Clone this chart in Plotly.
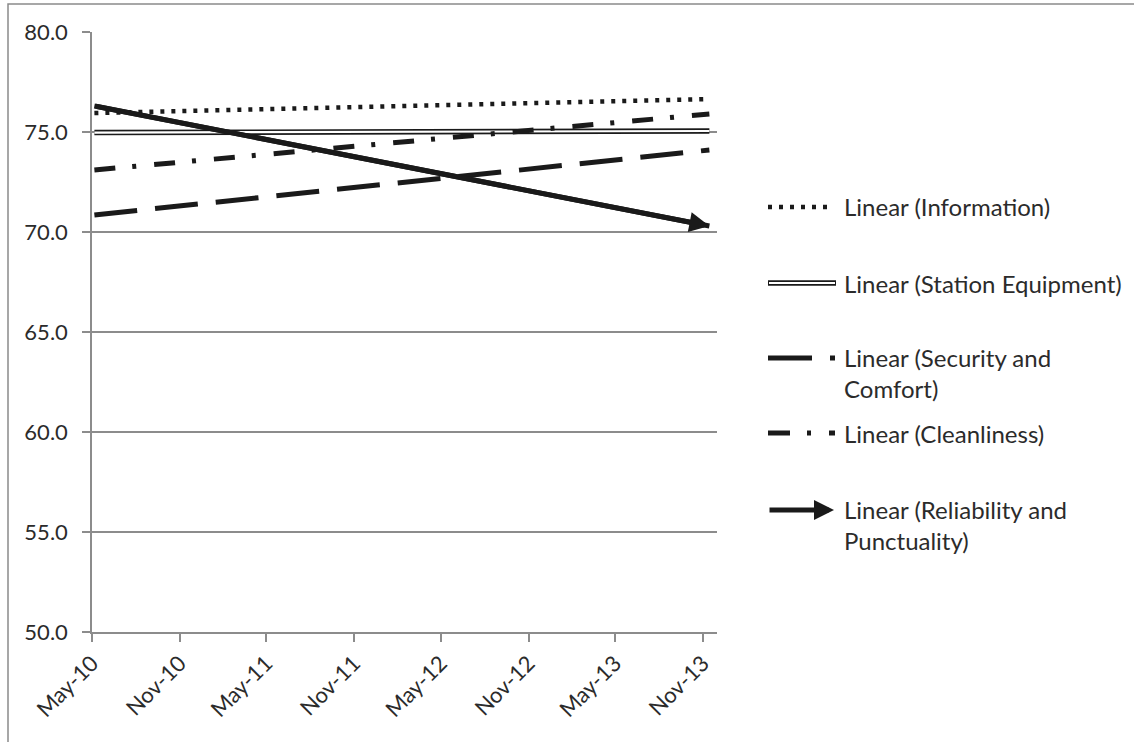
import plotly.graph_objects as go

# ---- data ----
trend_dates = ["2010-05-06", "2013-11-15"]          # extent of the linear trend lines
information = [75.95, 76.65]
station_equipment = [74.97, 75.05]
security_comfort = [70.85, 74.10]
cleanliness = [73.10, 75.90]
reliability = [76.30, 70.30]

tick_dates = ["2010-05-01", "2010-11-01", "2011-05-01", "2011-11-01",
              "2012-05-01", "2012-11-01", "2013-05-01", "2013-11-01"]
tick_labels = ["May-10", "Nov-10", "May-11", "Nov-11",
               "May-12", "Nov-12", "May-13", "Nov-13"]
y_ticks = [50, 55, 60, 65, 70, 75, 80]

legend_names = ["Linear (Information)", "Linear (Station Equipment)",
                "Linear (Security and<br>Comfort)", "Linear (Cleanliness)",
                "Linear (Reliability and<br>Punctuality)"]

# ---- layout geometry (pixels) ----
W, H = 1134, 742
L, R, T, B = 92, 1134 - 717, 32, 742 - 632
PW, PH = W - L - R, H - T - B


def px(xp):
    return (xp - L) / PW


def py(yp):
    return (H - B - yp) / PH


INK = "#1a1a1a"
GRID = "#8c8c8c"
FONT = "Lato"
TXT = "#2b2b2b"
DOT = "4px,7px"
ARROW_SIZE = 0.8

fig = go.Figure()

fig.add_trace(go.Scatter(x=trend_dates, y=information, mode="lines",
                         line=dict(color=INK, width=4.5, dash=DOT),
                         showlegend=False, name=legend_names[0]))
fig.add_trace(go.Scatter(x=trend_dates, y=station_equipment, mode="lines",
                         line=dict(color=INK, width=5.5),
                         showlegend=False, name=legend_names[1]))
fig.add_trace(go.Scatter(x=trend_dates, y=station_equipment, mode="lines",
                         line=dict(color="white", width=2.2),
                         showlegend=False, hoverinfo="skip"))
fig.add_trace(go.Scatter(x=trend_dates, y=security_comfort, mode="lines",
                         line=dict(color=INK, width=5, dash="43px,18px"),
                         showlegend=False, name=legend_names[2]))
fig.add_trace(go.Scatter(x=trend_dates, y=cleanliness, mode="lines",
                         line=dict(color=INK, width=5, dash="21px,17px,4px,18px"),
                         showlegend=False, name=legend_names[3]))
fig.add_trace(go.Scatter(x=trend_dates, y=reliability, mode="lines",
                         line=dict(color=INK, width=5),
                         showlegend=False, name=legend_names[4]))

annotations = []
# arrow head at the end of the reliability trend
annotations.append(dict(x=trend_dates[-1], y=reliability[-1], xref="x", yref="y",
                        ax=trend_dates[0], ay=reliability[0], axref="x", ayref="y",
                        showarrow=True, arrowhead=2, arrowsize=ARROW_SIZE, arrowwidth=5,
                        arrowcolor=INK, text="", standoff=0))

shapes = []
# outer chart border
shapes.append(dict(type="rect", xref="paper", yref="paper",
                   x0=px(8), y0=py(800), x1=px(1200), y1=py(4),
                   line=dict(color="#8a8a8a", width=1.5), fillcolor="rgba(0,0,0,0)",
                   layer="below"))

# ---- manual legend ----
sx0, tx = 768, 842
rows = [207, 283, 358, 433, 510]
text_y = [207, 283, 373, 433, 525]

shapes.append(dict(type="line", xref="paper", yref="paper", x0=px(sx0), x1=px(830),
                   y0=py(rows[0]), y1=py(rows[0]),
                   line=dict(color=INK, width=4.5, dash=DOT)))
shapes.append(dict(type="line", xref="paper", yref="paper", x0=px(sx0), x1=px(836),
                   y0=py(rows[1]), y1=py(rows[1]),
                   line=dict(color=INK, width=5.5)))
shapes.append(dict(type="line", xref="paper", yref="paper", x0=px(sx0 + 1), x1=px(835),
                   y0=py(rows[1]), y1=py(rows[1]),
                   line=dict(color="white", width=2.2)))
shapes.append(dict(type="line", xref="paper", yref="paper", x0=px(sx0), x1=px(835),
                   y0=py(rows[2]), y1=py(rows[2]),
                   line=dict(color=INK, width=5, dash="44px,18px")))
shapes.append(dict(type="line", xref="paper", yref="paper", x0=px(sx0), x1=px(835),
                   y0=py(rows[3]), y1=py(rows[3]),
                   line=dict(color=INK, width=5, dash="22px,17px,4px,18px")))
annotations.append(dict(x=px(834), y=py(rows[4]), xref="paper", yref="paper",
                        ax=-66, ay=0, showarrow=True, arrowhead=2, arrowsize=ARROW_SIZE,
                        arrowwidth=5, arrowcolor=INK, text="", standoff=0))

for name, ty in zip(legend_names, text_y):
    annotations.append(dict(x=px(tx), y=py(ty), xref="paper", yref="paper",
                            xanchor="left", yanchor="middle", align="left",
                            showarrow=False, text=name,
                            font=dict(family=FONT, size=24, color=TXT)))

fig.update_layout(
    width=W, height=H,
    margin=dict(l=L, r=R, t=T, b=B, pad=0),
    paper_bgcolor="white", plot_bgcolor="white",
    showlegend=False,
    font=dict(family=FONT, size=22, color=TXT),
    shapes=shapes, annotations=annotations,
    xaxis=dict(type="date", range=["2010-05-01", "2013-12-01"],
               tickmode="array", tickvals=tick_dates, ticktext=tick_labels,
               tickangle=-45, ticks="outside", ticklen=8, tickwidth=1.5,
               tickcolor=GRID, showline=True, linecolor=GRID, linewidth=1.5,
               showgrid=False, zeroline=False,
               tickfont=dict(family=FONT, size=22, color=TXT)),
    yaxis=dict(range=[50, 80], tickmode="array", tickvals=y_ticks,
               tickformat=".1f", ticks="outside", ticklen=8, tickwidth=1.5,
               tickcolor=GRID, showline=True, linecolor=GRID, linewidth=1.5,
               showgrid=True, gridcolor=GRID, gridwidth=1.5, zeroline=False,
               ticklabelstandoff=10,
               tickfont=dict(family=FONT, size=22, color=TXT)),
)

fig.write_html("out.html")
